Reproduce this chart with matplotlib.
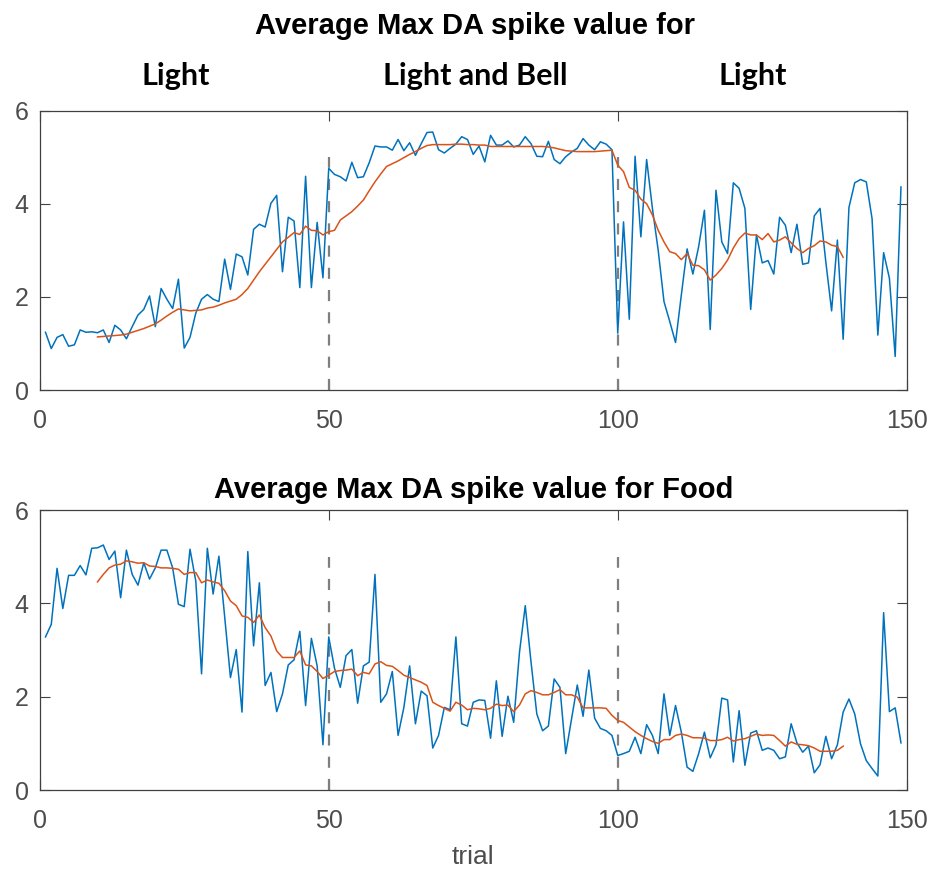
import matplotlib
matplotlib.use("Agg")
import matplotlib.pyplot as plt
import numpy as np

trials = list(range(1, 150))

light_blue = [1.24, 0.89, 1.13, 1.19, 0.94, 0.97, 1.29, 1.24, 1.25, 1.23,
              1.29, 1.02, 1.39, 1.29, 1.10, 1.36, 1.61, 1.73, 2.02, 1.36,
              2.18, 1.95, 1.75, 2.38, 0.90, 1.13, 1.65, 1.95, 2.05, 1.95,
              1.90, 2.81, 2.16, 2.92, 2.86, 2.47, 3.45, 3.56, 3.50, 4.01,
              4.18, 2.54, 3.71, 3.63, 2.20, 4.59, 2.20, 3.60, 2.41, 4.76,
              4.63, 4.58, 4.49, 4.89, 4.56, 4.58, 4.88, 5.24, 5.22, 5.22,
              5.15, 5.38, 5.14, 5.31, 5.04, 5.29, 5.53, 5.54, 5.16, 5.09,
              5.19, 5.28, 5.44, 5.38, 5.06, 5.24, 4.90, 5.47, 5.26, 5.26,
              5.35, 5.22, 5.26, 5.44, 5.29, 5.02, 5.01, 5.34, 4.95, 4.86,
              5.01, 5.11, 5.19, 5.40, 5.26, 5.16, 5.33, 5.28, 5.16, 1.22,
              3.61, 1.52, 5.02, 3.29, 4.95, 3.90, 3.00, 1.90, 1.47, 1.02,
              2.04, 3.03, 2.49, 3.08, 3.86, 1.30, 4.29, 3.18, 2.93, 4.45,
              4.33, 3.90, 1.73, 3.33, 2.73, 2.78, 2.49, 3.71, 3.54, 2.95,
              3.56, 2.70, 2.73, 3.74, 3.90, 2.75, 1.70, 3.22, 1.09, 3.92,
              4.45, 4.52, 4.47, 3.68, 1.18, 2.95, 2.40, 0.72, 4.36]

avg_trials = list(range(10, 140))

light_avg = [1.14, 1.15, 1.16, 1.17, 1.18, 1.20, 1.24, 1.28, 1.32, 1.37,
             1.42, 1.50, 1.59, 1.67, 1.74, 1.72, 1.70, 1.71, 1.72, 1.76,
             1.78, 1.82, 1.87, 1.91, 1.95, 2.05, 2.18, 2.36, 2.54, 2.70,
             2.86, 3.02, 3.18, 3.28, 3.38, 3.34, 3.52, 3.43, 3.42, 3.33,
             3.40, 3.43, 3.65, 3.74, 3.83, 3.95, 4.08, 4.28, 4.47, 4.64,
             4.80, 4.86, 4.92, 4.99, 5.06, 5.12, 5.19, 5.25, 5.27, 5.27,
             5.27, 5.27, 5.28, 5.28, 5.27, 5.27, 5.26, 5.26, 5.23, 5.23,
             5.23, 5.23, 5.23, 5.23, 5.23, 5.23, 5.23, 5.23, 5.22, 5.20,
             5.17, 5.14, 5.13, 5.12, 5.12, 5.12, 5.12, 5.13, 5.14, 5.15,
             4.83, 4.69, 4.35, 4.29, 4.10, 4.00, 3.76, 3.43, 3.18, 2.97,
             2.93, 2.80, 2.93, 2.68, 2.67, 2.58, 2.36, 2.47, 2.61, 2.79,
             3.05, 3.25, 3.37, 3.33, 3.33, 3.23, 3.36, 3.18, 3.22, 3.29,
             3.16, 3.04, 2.95, 3.04, 3.10, 3.20, 3.18, 3.11, 3.08, 2.85]

food_blue = [3.28, 3.55, 4.75, 3.89, 4.60, 4.60, 4.81, 4.61, 5.18, 5.19,
             5.25, 4.94, 5.12, 4.12, 5.14, 4.62, 4.39, 4.87, 4.52, 4.76,
             5.14, 5.14, 4.76, 3.98, 3.93, 5.16, 4.48, 2.49, 5.18, 4.20,
             5.01, 3.70, 2.41, 3.01, 1.67, 5.11, 3.09, 4.44, 2.24, 2.52,
             1.68, 2.06, 2.68, 2.79, 3.40, 1.81, 3.25, 2.66, 0.97, 3.28,
             2.61, 2.20, 2.88, 3.01, 1.86, 2.66, 2.74, 4.62, 1.88, 2.06,
             2.54, 1.17, 1.77, 2.66, 1.42, 2.12, 2.02, 0.90, 1.17, 1.77,
             1.72, 3.28, 1.42, 1.37, 1.88, 1.93, 1.92, 1.11, 2.34, 1.15,
             2.01, 1.45, 2.95, 3.95, 2.74, 1.63, 1.27, 1.37, 2.38, 2.20,
             0.78, 1.52, 2.25, 1.58, 2.57, 1.54, 1.32, 1.27, 1.17, 0.74,
             0.78, 0.83, 1.13, 0.78, 1.40, 1.17, 0.78, 2.06, 1.17, 1.81,
             1.24, 0.49, 0.40, 0.78, 1.24, 0.69, 0.97, 1.97, 1.93, 0.60,
             1.70, 0.53, 1.22, 1.27, 0.85, 0.90, 0.85, 0.67, 0.71, 1.42,
             1.01, 0.81, 0.94, 0.37, 0.54, 1.15, 0.67, 0.97, 1.67, 1.95,
             1.63, 0.99, 0.63, 0.46, 0.30, 3.80, 1.68, 1.76, 1.01]

food_avg = [4.46, 4.62, 4.76, 4.82, 4.84, 4.91, 4.89, 4.86, 4.87, 4.80,
            4.79, 4.76, 4.76, 4.75, 4.73, 4.62, 4.66, 4.66, 4.44, 4.50,
            4.46, 4.43, 4.27, 4.05, 3.95, 3.73, 3.70, 3.59, 3.75, 3.48,
            3.30, 2.98, 2.84, 2.84, 2.84, 2.98, 2.68, 2.66, 2.54, 2.39,
            2.46, 2.54, 2.56, 2.57, 2.59, 2.45, 2.52, 2.49, 2.70, 2.75,
            2.67, 2.65, 2.56, 2.46, 2.41, 2.36, 2.31, 2.24, 1.88, 1.81,
            1.75, 1.69, 1.88, 1.82, 1.72, 1.75, 1.74, 1.72, 1.75, 1.84,
            1.81, 1.82, 1.68, 1.82, 2.06, 2.13, 2.09, 2.04, 2.04, 2.09,
            2.15, 2.04, 2.04, 1.99, 1.76, 1.76, 1.76, 1.76, 1.75, 1.60,
            1.49, 1.45, 1.35, 1.25, 1.17, 1.10, 1.04, 1.00, 1.08, 1.08,
            1.17, 1.20, 1.17, 1.12, 1.12, 1.11, 1.06, 1.06, 1.08, 1.13,
            1.05, 1.08, 1.10, 1.15, 1.20, 1.17, 1.18, 1.17, 1.06, 0.94,
            1.03, 0.98, 0.97, 0.95, 0.90, 0.83, 0.83, 0.83, 0.85, 0.94]

boundaries = [50, 100]
phase_labels = ["Light", "Light and Bell", "Light"]
xticks = [0, 50, 100, 150]
yticks = [0, 2, 4, 6]

BLUE = "#0072BD"
ORANGE = "#D95319"
AX_COLOR = "#404040"

plt.rcParams["font.family"] = ["Liberation Sans", "DejaVu Sans"]

fig = plt.figure(figsize=(9.30, 8.69), dpi=100)
ax1 = fig.add_axes([0.0427, 0.5512, 0.9323, 0.3215])
ax2 = fig.add_axes([0.0427, 0.0909, 0.9323, 0.3222])

for ax, blue, avg in [(ax1, light_blue, light_avg), (ax2, food_blue, food_avg)]:
    ax.plot(trials, blue, color=BLUE, lw=1.1, zorder=3)
    ax.plot(avg_trials, avg, color=ORANGE, lw=1.1, zorder=4)
    ax.vlines(boundaries, 0, 5, colors="#7f7f7f", linestyles=(0, (5, 5)), lw=1.6, zorder=2)
    ax.set_xlim(0, 150)
    ax.set_ylim(0, 6)
    ax.set_xticks(xticks)
    ax.set_yticks(yticks)
    ax.tick_params(direction="in", length=7, width=0.8, colors=AX_COLOR,
                   labelsize=18, top=True, right=True, labelcolor="#4d4d4d")
    ax.tick_params(axis="x", pad=14)
    ax.tick_params(axis="y", pad=8)
    for sp in ax.spines.values():
        sp.set_color(AX_COLOR)
        sp.set_linewidth(0.9)

fig.text(0.511, 0.970, "Average Max DA spike value for", ha="center", va="center",
         fontsize=21, fontweight="bold", family="Liberation Sans", color="#000000")
for xpos, lab in zip([0.189, 0.511, 0.809], phase_labels):
    fig.text(xpos, 0.912, lab, ha="center", va="center",
             fontsize=22, fontweight="bold", family="Lato", color="#000000")
fig.text(0.509, 0.436, "Average Max DA spike value for Food", ha="center", va="center",
         fontsize=21, fontweight="bold", family="Liberation Sans", color="#000000")
fig.text(0.509, 0.014, "trial", ha="center", va="center", fontsize=19,
         family="Liberation Sans", color="#4d4d4d")

fig.savefig("out.png", dpi=100)
